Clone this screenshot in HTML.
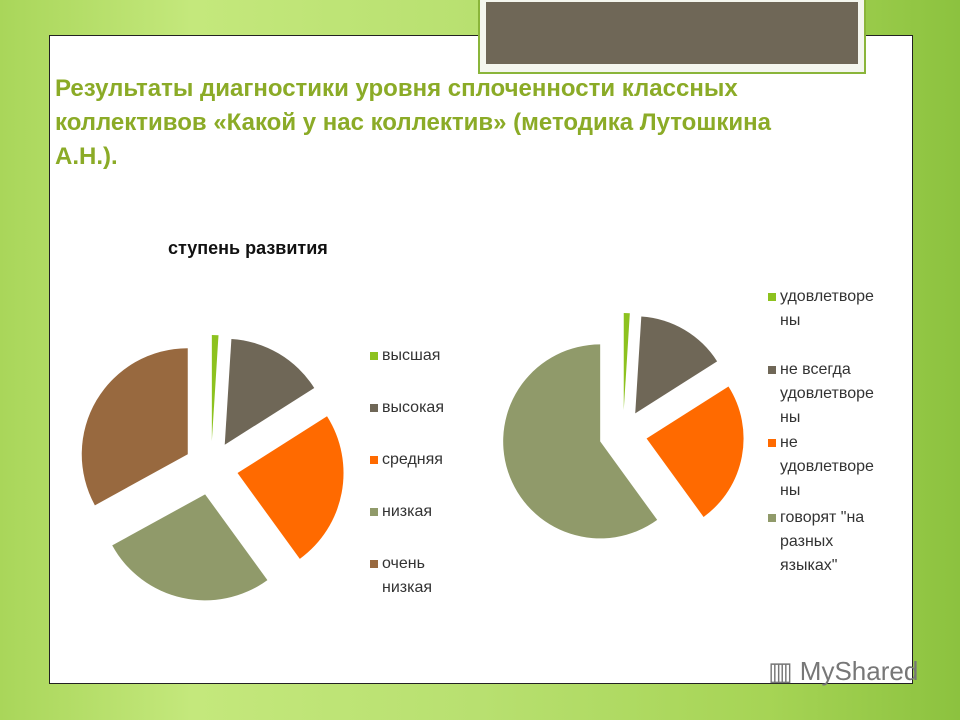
<!DOCTYPE html>
<html><head><meta charset="utf-8">
<style>
html,body{margin:0;padding:0}
body{width:960px;height:720px;position:relative;overflow:hidden;font-family:"Liberation Sans","DejaVu Sans",sans-serif;
background:linear-gradient(90deg,#a9d65a 0%,#c4e87c 20%,#b8e070 50%,#a6d455 80%,#8cc23f 100%);}
.abs{position:absolute}
#panel{left:49px;top:35px;width:862px;height:647px;background:#fff;border:1px solid #222;}
#frame{left:478px;top:-4px;width:384px;height:74px;background:#f4f6ee;border:2px solid #8ab53a;}
#frame div{position:absolute;left:6px;top:4px;right:6px;bottom:8px;background:#6f6757}
#title{left:55px;top:72px;width:860px;color:#8bab27;font-size:24px;font-weight:bold;line-height:34px;white-space:nowrap}
#ctitle{left:168px;top:238px;font-size:18px;font-weight:bold;color:#111}
.leg{font-size:16px;color:#333;line-height:24px}
.mk{position:absolute;width:8px;height:8px}
#wm{left:768px;top:656px;font-size:26px;color:#777;}
</style></head><body>
<div id="panel" class="abs"></div>
<div id="frame" class="abs"><div></div></div>
<div id="title" class="abs">Результаты диагностики уровня сплоченности классных<br>коллективов «Какой у нас коллектив» (методика Лутошкина<br>А.Н.).</div>
<div id="ctitle" class="abs">ступень развития</div>
<svg class="abs" style="left:0;top:0" width="960" height="720" id="charts"></svg>
<div id="legL"></div>
<div id="legR"></div>
<div id="wm" class="abs">▥ MyShared</div>
<script>
const leftCategories=["высшая","высокая","средняя","низкая","очень низкая"];
const leftValues=[1,15,24,27,33];
const rightCategories=["удовлетворены","не всегда удовлетворены","не удовлетворены","говорят \"на разных языках\""];
const rightValues=[1,15,24,60];
const colors=["#8dc21f","#6f6757","#ff6a00","#909a6a","#98693f"];
const svg=document.getElementById('charts');
const NS="http://www.w3.org/2000/svg";
function pie(values,cx,cy,r,d,name){
  const tot=values.reduce((a,b)=>a+b,0);let a0=0;
  values.forEach((v,i)=>{
    const a1=a0+v/tot*2*Math.PI, m=(a0+a1)/2;
    const ox=cx+d*Math.sin(m), oy=cy-d*Math.cos(m);
    const x0=ox+r*Math.sin(a0),y0=oy-r*Math.cos(a0),x1=ox+r*Math.sin(a1),y1=oy-r*Math.cos(a1);
    const p=document.createElementNS(NS,'path');
    p.setAttribute('d',`M${ox},${oy}L${x0},${y0}A${r},${r} 0 ${a1-a0>Math.PI?1:0} 1 ${x1},${y1}Z`);
    p.setAttribute('fill',colors[i]);
    
    
    svg.appendChild(p);a0=a1;
  });
}
pie(leftValues,211,468,106,27,'left-pie');
pie(rightValues,623,434,97,24,'right-pie');
function legend(id,items,x,ys,w){
  const c=document.getElementById(id);
  items.forEach((t,i)=>{
    const e=document.createElement('div');
    e.className='abs leg';e.style.left=x+'px';e.style.top=ys[i]+'px';e.style.width=w+'px';
    e.innerHTML=t;
    
    
    const m=document.createElement('div');m.className='mk';m.style.left=(x-12)+'px';m.style.top=(ys[i]+8)+'px';m.style.background=colors[i];
    c.appendChild(m);c.appendChild(e);
  });
}
legend('legL',["высшая","высокая","средняя","низкая","очень<br>низкая"],382,[344,396,448,500,552],70);
legend('legR',["удовлетворе<br>ны","не всегда<br>удовлетворе<br>ны","не<br>удовлетворе<br>ны","говорят \"на<br>разных<br>языках\""],780,[285,358,431,506],125);
</script>
</body></html>
